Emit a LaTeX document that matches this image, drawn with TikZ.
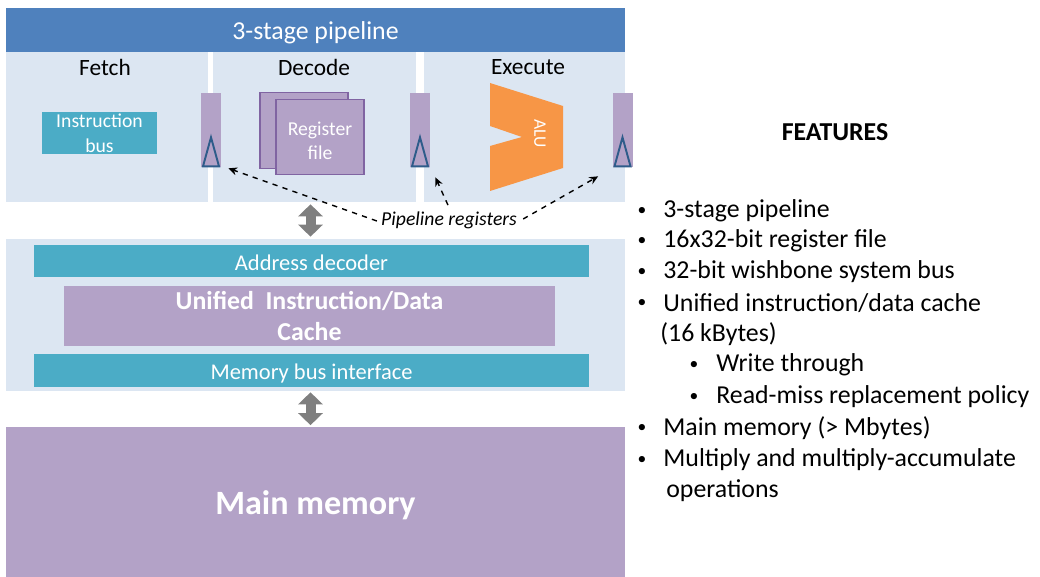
\documentclass[tikz,border=0pt]{standalone}
\usepackage{fontspec}
\setmainfont{Carlito}
\usepackage{tikz}
\usetikzlibrary{positioning, arrows.meta, calc}
\usepackage{xcolor}

\definecolor{hdrblue}{HTML}{4F81BD}
\definecolor{panelblue}{HTML}{DCE6F2}
\definecolor{tealbox}{HTML}{4BACC6}
\definecolor{lilac}{HTML}{B3A2C7}
\definecolor{lilacdark}{HTML}{8064A2}
\definecolor{aluorange}{HTML}{F79646}
\definecolor{clkblue}{HTML}{2E5C8A}
\definecolor{arrgray}{HTML}{7F7F7F}

\newcommand{\fsbig}{\fontsize{14.7}{17.6}\selectfont}
\newcommand{\fsstage}{\fontsize{13.3}{16}\selectfont}
\newcommand{\fsbar}{\fontsize{12.8}{15}\selectfont}
\newcommand{\fssmall}{\fontsize{11.2}{14}\selectfont}
\newcommand{\fshuge}{\fontsize{19.4}{23}\selectfont}

\begin{document}
\begin{tikzpicture}[
    x=0.02cm, y=-0.02cm,
    every node/.style={inner sep=0pt},
    panel/.style={fill=panelblue, minimum height=3.0cm},
    wide/.style={fill=panelblue, minimum width=12.38cm, minimum height=3.04cm},
    bar/.style={fill=tealbox, text=white, font=\fsbar, text height=13.2pt, text depth=2.6pt, minimum width=11.1cm, minimum height=0.65cm},
    lila/.style={fill=lilac, text=white, align=center},
    preg/.style={fill=lilac, minimum width=0.4cm, minimum height=1.48cm},
    rfbox/.style={fill=lilac, draw=lilacdark, line width=0.7pt, minimum width=1.76cm, minimum height=1.51cm},
    stagelbl/.style={font=\fsstage},
    clk/.style={draw=clkblue, line width=1.1pt, line join=miter},
    dasharr/.style={-{Stealth[length=5pt, width=4.5pt]}, dashed, line width=0.8pt},
    dbl/.style={{Triangle[length=0.24cm, width=0.48cm]}-{Triangle[length=0.24cm, width=0.48cm]}, line width=0.2cm, arrgray},
    item/.style={anchor=west, font=\fsbig},
    dot/.style={font=\fontsize{10}{12}\selectfont},
]
\useasboundingbox (0,0) rectangle (1040,577);

% Pipeline header and stages
\node[fill=hdrblue, text=white, font=\fsbig, text height=13.8pt, minimum width=12.38cm, minimum height=0.88cm] (hdr) at (315.5,30) {3-stage pipeline};
\node[panel, minimum width=4.04cm] (fetch) at (107,127) {};
\node[panel, minimum width=4.06cm] (decode) at (314.5,127) {};
\node[panel, minimum width=4.02cm] (execute) at (524.5,127) {};
\node[stagelbl] (fetchlbl) at (105,67) {Fetch};
\node[stagelbl] (decodelbl) at (314,67) {Decode};
\node[stagelbl] (executelbl) at (528,67) {Execute};

% Fetch stage
\node[fill=tealbox, text=white, font=\fssmall, align=center, minimum width=2.3cm, minimum height=0.86cm] (ibus) at (99.5,133) {Instruction\\bus};

% Decode stage
\node[rfbox] (rfback) at (304,130.5) {};
\node[rfbox] (rf) at (320,137) {};
\node[text=white, font=\fssmall, align=center] (rftxt) at (320,141) {Register\\file};

% Execute stage
\fill[aluorange] (490,83) -- (563,106) -- (563,168) -- (490,191) -- (490,146) -- (522,137) -- (490,126) -- cycle;
\node[text=white, font=\fontsize{10}{12}\selectfont, rotate=-90] (alu) at (540,134) {ALU};

% Pipeline registers
\node[preg] (reg1) at (211,130) {};
\node[preg] (reg2) at (420,130) {};
\node[preg] (reg3) at (622.5,130) {};
\foreach \r in {reg1,reg2,reg3}
  \draw[clk] ([shift={(-8,-1)}]\r.south) -- ([shift={(0,-30)}]\r.south) -- ([shift={(8,-1)}]\r.south) -- cycle;

\node[font=\fssmall\itshape] (pregtxt) at (449,220) {Pipeline registers};
\draw[dasharr] ([shift={(-4,1)}]pregtxt.west) -- ([shift={(7,1)}]reg1.south east);
\draw[dasharr] ([shift={(-1,-6)}]pregtxt.north) -- ([shift={(5,10)}]reg2.south east);
\draw[dasharr] ([shift={(6,-1)}]pregtxt.east) -- ([shift={(-14,9)}]reg3.south west);

% Cache block
\node[wide] (mid) at (315.5,315) {};
\node[bar] (addr) at (311.5,261) {Address decoder};
\node[lila, font=\fsbig\bfseries, minimum width=9.82cm, minimum height=1.2cm] (cache) at (309.5,316) {Unified\ \ Instruction/Data\\Cache};
\node[bar] (membus) at (311.5,370.5) {Memory bus interface};

% Main memory
\node[lila, font=\fshuge\bfseries, text height=17.3pt, minimum width=12.38cm, minimum height=3.02cm] (mainmem) at (315.5,502) {Main memory};

% Bus arrows
\draw[dbl] ([shift={(-4,2)}]decode.south) -- ([shift={(-5,-2)}]mid.north);
\draw[dbl] ([shift={(-5,1)}]mid.south) -- ([shift={(-5,-1)}]mainmem.north);

% Features list
\node[font=\fsbig\bfseries] (feat) at (835,132) {FEATURES};
\node[dot] (b1) at (642,211) {•};
\node[item] (f1) at (663,211) {3-stage pipeline};
\node[dot] (b2) at (642,241) {•};
\node[item] (f2) at (663,241) {16x32-bit register file};
\node[dot] (b3) at (642,272) {•};
\node[item] (f3) at (663,272) {32-bit wishbone system bus};
\node[dot] (b4) at (642,303) {•};
\node[item] (f4) at (663,303) {Unified instruction/data cache};
\node[item] (f4b) at (660,334) {(16 kBytes)};
\node[dot] (b5) at (694,365) {•};
\node[item] (f5) at (716,365) {Write through};
\node[dot] (b6) at (694,397) {•};
\node[item] (f6) at (716,397) {Read-miss replacement policy};
\node[dot] (b7) at (642,428) {•};
\node[item] (f7) at (663,428) {Main memory (> Mbytes)};
\node[dot] (b8) at (642,460) {•};
\node[item] (f8) at (663,460) {Multiply and multiply-accumulate};
\node[item] (f8b) at (666,491) {operations};
\end{tikzpicture}
\end{document}
